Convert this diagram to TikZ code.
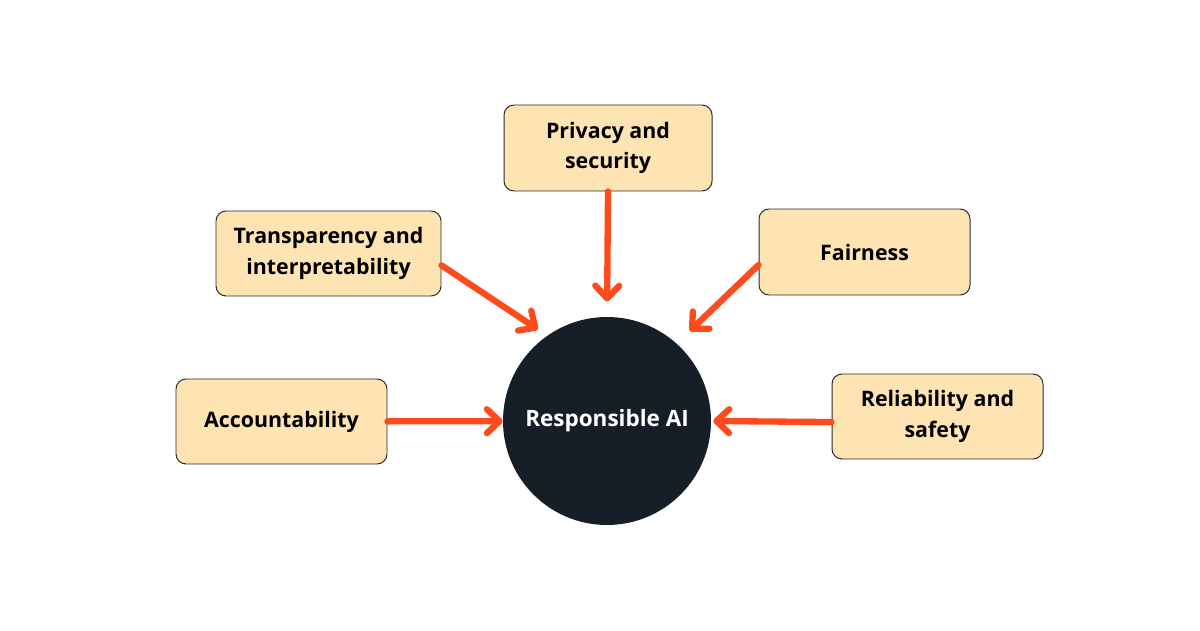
\documentclass[tikz,border=0pt]{standalone}
\usepackage{fontspec}
\setmainfont{Open Sans}
\usetikzlibrary{arrows.meta,positioning}
\definecolor{boxfill}{HTML}{FFE4B3}
\definecolor{boxline}{HTML}{2A2A2A}
\definecolor{arrowred}{HTML}{FF4A1C}
\definecolor{corenavy}{HTML}{161F28}
\tikzset{
  >={Straight Barb[length=9pt,width=17pt,round]},
  % rutor
  pillar/.style={rectangle,rounded corners=0.25cm,draw=boxline,fill=boxfill,
                 line width=0.7pt,minimum width=5.275cm,minimum height=2.125cm,
                 align=center,font=\fontsize{15.2}{21.5}\selectfont\bfseries},
  core/.style={circle,fill=corenavy,text=white,minimum size=5.2cm,inner sep=0pt,
               font=\fontsize{16}{21}\selectfont\bfseries},
  % pilar
  feed/.style={->,draw=arrowred,line width=4.5pt,line cap=round},
}
\begin{document}
\begin{tikzpicture}
\useasboundingbox (0,0) rectangle (30,15.75);
  \node[core] (ai) at (15.175,5.225) {Responsible AI};
  \node[pillar,minimum width=5.2cm,minimum height=2.15cm] (priv) at (15.2,12.05) {Privacy and\\security};
  \node[pillar,minimum width=5.625cm] (trans) at (8.2125,9.4125) {Transparency and\\interpretability};
  \node[pillar,minimum height=2.15cm] (fair) at (21.6125,9.45) {Fairness};
  \node[pillar] (acc) at (7.0375,5.2125) {Accountability};
  \node[pillar] (rel) at (23.4375,5.3375) {Reliability and\\safety};
  \draw[feed,shorten >=0.38cm] (priv.south) -- (ai.north);
  \draw[feed,shorten >=0.28cm] (trans.-6) -- (ai.125);
  \draw[feed,shorten >=0.45cm] (fair.187) -- (ai.48);
  \draw[feed] (acc) -- (ai);
  \draw[feed,shorten >=0.05cm] (rel.183) -- (ai.east);
\end{tikzpicture}
\end{document}
